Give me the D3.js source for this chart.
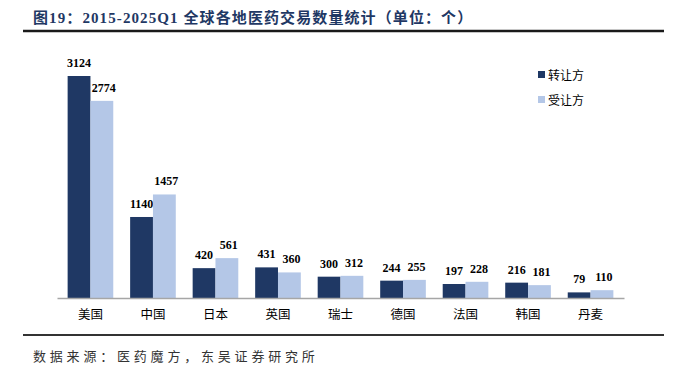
<!DOCTYPE html>
<html>
<head>
<meta charset="utf-8">
<script src="https://cdn.jsdelivr.net/npm/d3@7"></script>
<style>
  body { margin: 0; background: #fff; }
  text { font-family: "Liberation Serif", "Noto Sans CJK SC", serif; }
</style>
</head>
<body>
<svg id="chart" width="691" height="376"></svg>
<script>
const categories = ["美国", "中国", "日本", "英国", "瑞士", "德国", "法国", "韩国", "丹麦"];
const transferor = [3124, 1140, 420, 431, 300, 244, 197, 216, 79];
const transferee = [2774, 1457, 561, 360, 312, 255, 228, 181, 110];
const seriesNames = ["转让方", "受让方"];
const colors = ["#1f3864", "#b4c7e7"];

const svg = d3.select("#chart");

// title + rules
svg.append("text")
  .attr("x", 33).attr("y", 23)
  .attr("fill", "#1f3864")
  .style("font-size", "15px").style("font-weight", "bold")
  .style("letter-spacing", "1.1px")
  .style("font-family", "'Liberation Serif', 'Noto Sans CJK SC', serif")
  .text("图19：2015-2025Q1 全球各地医药交易数量统计（单位：个）");

svg.append("line").attr("x1", 23).attr("x2", 664).attr("y1", 31).attr("y2", 31)
  .attr("stroke", "#1a1a1a").attr("stroke-width", 2.5);
svg.append("line").attr("x1", 23).attr("x2", 664).attr("y1", 335).attr("y2", 335)
  .attr("stroke", "#333").attr("stroke-width", 2);

svg.append("text")
  .attr("x", 33).attr("y", 361)
  .attr("fill", "#333")
  .style("font-size", "13px")
  .style("letter-spacing", "3.8px")
  .style("font-family", "'Noto Sans CJK SC', serif")
  .text("数据来源：医药魔方，东吴证券研究所");

const base = 298;
const x = d3.scaleBand().domain(categories).range([57, 624]).paddingInner(0.27).paddingOuter(0.17);
const xs = d3.scaleBand().domain([0, 1]).range([0, x.bandwidth()]);
const y = d3.scaleLinear().domain([0, 3124]).range([base, 76]);

const g = svg.append("g");
const data = categories.map((c, i) => ({ c, v: [transferor[i], transferee[i]] }));

const grp = g.selectAll("g.cat").data(data).enter().append("g")
  .attr("transform", d => `translate(${x(d.c)},0)`);

[0, 1].forEach(s => {
  grp.append("rect")
    .attr("x", xs(s)).attr("width", xs.bandwidth())
    .attr("y", d => y(d.v[s])).attr("height", d => base - y(d.v[s]))
    .attr("fill", colors[s]);
  grp.append("text")
    .attr("x", xs(s) + xs.bandwidth() / 2 + (s === 1 ? 2 : 0))
    .attr("y", d => y(d.v[s]) - 9)
    .attr("text-anchor", "middle")
    .style("font-size", "12px").style("font-weight", "bold")
    .attr("fill", "#000")
    .text(d => d.v[s]);
});

// axis
const axis = svg.append("g").attr("transform", `translate(0,${base})`)
  .call(d3.axisBottom(x).tickSize(0).tickPadding(12));
axis.select(".domain").attr("stroke", "#a6a6a6").attr("stroke-width", 1.5);
axis.selectAll("text")
  .style("font-size", "12.5px")
  .style("font-family", "'Noto Sans CJK SC', serif")
  .attr("fill", "#000");

// legend
const leg = svg.append("g").attr("transform", "translate(538,75)");
seriesNames.forEach((n, i) => {
  const r = leg.append("g").attr("transform", `translate(0,${i * 25})`);
  r.append("rect").attr("x", 0).attr("y", -4).attr("width", 7).attr("height", 7).attr("fill", colors[i]);
  r.append("text").attr("x", 10).attr("y", 4.5)
    .style("font-size", "12px")
    .style("font-family", "'Noto Sans CJK SC', sans-serif")
    .attr("fill", "#000").text(n);
});
</script>
</body>
</html>
